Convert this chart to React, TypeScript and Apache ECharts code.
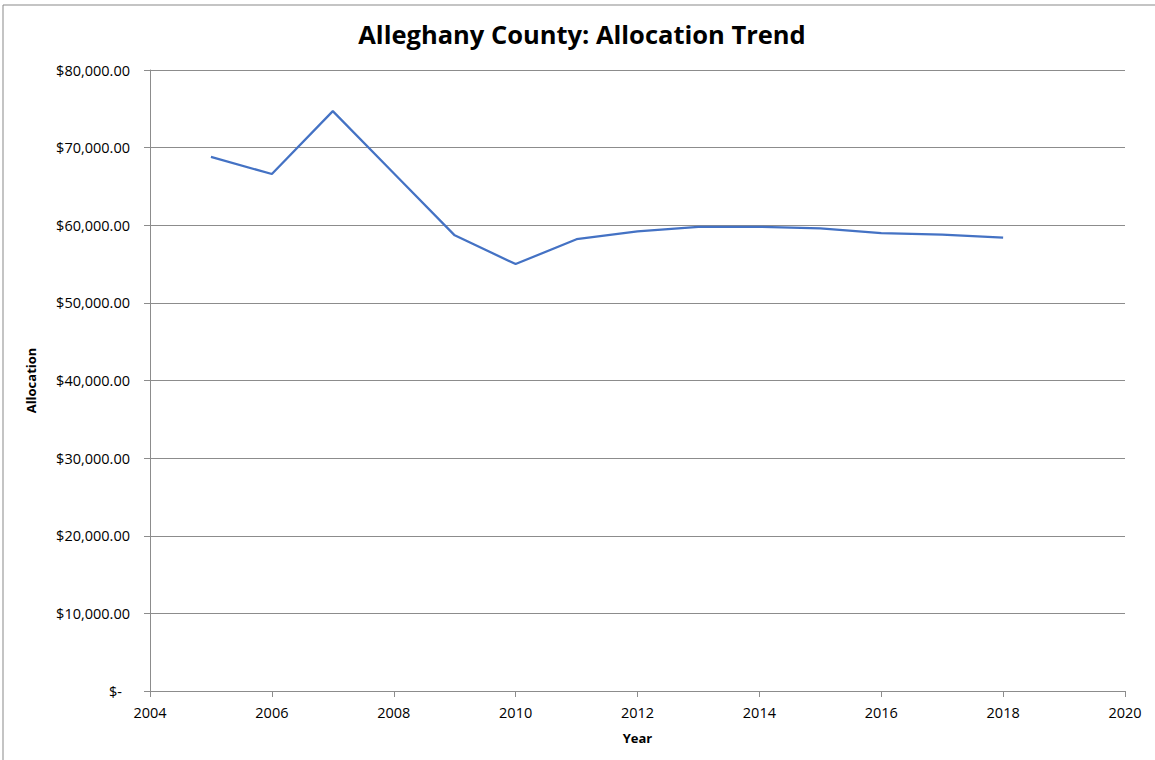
import React, { useEffect, useRef } from "react";
import * as echarts from "echarts";

const years = [2005, 2006, 2007, 2008, 2009, 2010, 2011, 2012, 2013, 2014, 2015, 2016, 2017, 2018];
const allocations = [68800, 66600, 74700, 66700, 58700, 55000, 58200, 59200, 59800, 59800, 59600, 59000, 58800, 58400];

const FONT = "'Open Sans', Lato, sans-serif";

export default function App() {
  const ref = useRef<HTMLDivElement>(null);
  useEffect(() => {
    if (!ref.current) return;
    const chart = echarts.init(ref.current, undefined, { renderer: "svg" });
    const data = years.map((y, i) => [y, allocations[i]]);
    chart.setOption({
      animation: false,
      backgroundColor: "#ffffff",
      textStyle: { fontFamily: FONT },
      title: {
        text: "Alleghany County: Allocation Trend",
        left: 577,
        top: 16,
        textAlign: "center",
        textStyle: { fontFamily: FONT, fontSize: 25.5, fontWeight: "bold", color: "#000000" },
      },
      graphic: [
        {
          type: "rect",
          shape: { x: 3, y: 5, width: 1170, height: 780 },
          style: { fill: "none", stroke: "#898989", lineWidth: 1 },
          silent: true,
        },
      ],
      grid: { left: 150, right: 30, top: 70, bottom: 69 },
      xAxis: {
        type: "value",
        min: 2004,
        max: 2020,
        interval: 2,
        name: "Year",
        nameLocation: "middle",
        nameGap: 40,
        nameTextStyle: { fontFamily: FONT, fontSize: 13, fontWeight: "bold", color: "#000" },
        axisLine: { show: true, lineStyle: { color: "#8c8c8c", width: 1 } },
        axisTick: { show: true, length: 6, lineStyle: { color: "#8c8c8c" } },
        axisLabel: { fontFamily: FONT, fontSize: 14.5, color: "#000", margin: 14, formatter: (v: number) => String(v) },
        splitLine: { show: false },
      },
      yAxis: {
        type: "value",
        min: 0,
        max: 80000,
        interval: 10000,
        name: "Allocation",
        nameLocation: "middle",
        nameGap: 113,
        nameRotate: 90,
        nameTextStyle: { fontFamily: FONT, fontSize: 13, fontWeight: "bold", color: "#000" },
        axisLine: { show: true, lineStyle: { color: "#8c8c8c", width: 1 } },
        axisTick: { show: true, length: 6, lineStyle: { color: "#8c8c8c" } },
        axisLabel: {
          fontFamily: FONT,
          fontSize: 14.5,
          color: "#000",
          margin: 20,
          formatter: (v: number) =>
            v === 0
              ? "{z|$-}"
              : "$" + v.toLocaleString("en-US", { minimumFractionDigits: 2, maximumFractionDigits: 2 }),
          rich: { z: { fontFamily: FONT, fontSize: 14.5, color: "#000", padding: [0, 8, 0, 0] } },
        },
        splitLine: { show: true, lineStyle: { color: "#8c8c8c", width: 1 } },
      },
      series: [
        {
          type: "line",
          data,
          showSymbol: false,
          symbol: "none",
          lineStyle: { color: "#4472c4", width: 2.25 },
          itemStyle: { color: "#4472c4" },
        },
      ],
    });
    return () => chart.dispose();
  }, []);
  return (
    <div
      ref={ref}
      style={{ position: "fixed", left: 0, top: 0, width: 1155, height: 760 }}
    />
  );
}
